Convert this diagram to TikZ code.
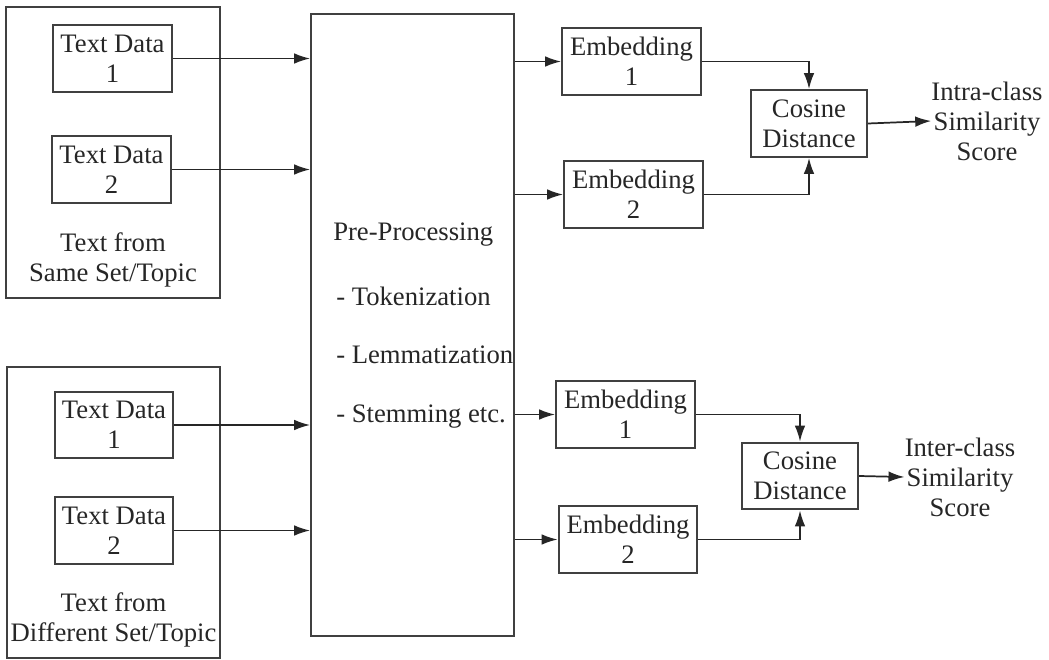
\documentclass[tikz,border=0pt]{standalone}
\usepackage{fontspec}
\setmainfont{Liberation Serif}
\usetikzlibrary{arrows.meta}

\begin{document}
\begin{tikzpicture}[x=0.75pt,y=0.75pt,yscale=-1,
    txt/.style={font=\fontsize{20}{22.5}\selectfont, text=black!85},
    box/.style={txt, draw=black!75, line width=1.6pt, align=center, inner sep=0pt},
    databox/.style={box, minimum width=89pt, minimum height=50pt},
    groupbox/.style={draw=black!75, line width=1.6pt, minimum width=160pt, minimum height=218pt},
    embbox/.style={box, minimum width=104pt, minimum height=50pt},
    cosbox/.style={box, minimum width=87pt, minimum height=50pt},
    link/.style={draw=black!85, line width=1.3pt, -{Latex[length=12pt,width=8pt]}}]

    \useasboundingbox (0,0) rectangle (1049,660);

    % left groups
    \draw (113,152.5) node [groupbox] (same) {};
    \draw (112.5,58.5) node [databox] (tdA1) {Text Data\\1};
    \draw (111.5,169.5) node [databox] (tdA2) {Text Data\\2};
    \draw (113,260) node [txt, align=center] (sameLbl) {Text from\\Same Set/Topic};
    \draw (113.5,512.5) node [groupbox] (diff) {};
    \draw (114,425) node [databox] (tdB1) {Text Data\\1};
    \draw (114,530.5) node [databox] (tdB2) {Text Data\\2};
    \draw (113.5,620) node [txt, align=center] (diffLbl) {Text from\\Different Set/Topic};

    % pre-processing
    \draw (412.5,325) node [box, minimum width=152pt, minimum height=466.5pt] (pre) {};
    \draw (333,235) node [txt, anchor=west, inner sep=0pt] (preTitle) {Pre-Processing};
    \draw (336,296) node [txt, anchor=west, inner sep=0pt] (preTok) {- Tokenization};
    \draw (336,355) node [txt, anchor=west, inner sep=0pt] (preLem) {- Lemmatization};
    \draw (336,417) node [txt, anchor=west, inner sep=0pt] (preStem) {- Stemming etc.};

    % embeddings and distances
    \draw (631.5,61.5) node [embbox] (embA1) {Embedding\\1};
    \draw (633.5,194.5) node [embbox] (embA2) {Embedding\\2};
    \draw (809,123.5) node [cosbox] (cosA) {Cosine\\Distance};
    \draw (987,121) node [txt, align=center, inner sep=0pt] (scoreA) {Intra-class\\Similarity\\Score};
    \draw (625.5,414.5) node [embbox] (embB1) {Embedding\\1};
    \draw (628,539.5) node [embbox] (embB2) {Embedding\\2};
    \draw (800,476) node [cosbox] (cosB) {Cosine\\Distance};
    \draw (960,477) node [txt, align=center, inner sep=0pt] (scoreB) {Inter-class\\Similarity\\Score};

    \draw [link] (tdA1.east) -- (tdA1.east -| pre.west);
    \draw [link] (tdA2.east) -- (tdA2.east -| pre.west);
    \draw [link] (tdB1.east) -- (tdB1.east -| pre.west);
    \draw [link] (tdB2.east) -- (tdB2.east -| pre.west);
    \draw [link] (pre.east |- embA1) -- (embA1.west);
    \draw [link] (pre.east |- embA2) -- (embA2.west);
    \draw [link] (pre.east |- embB1) -- (embB1.west);
    \draw [link] (pre.east |- embB2) -- (embB2.west);
    \draw [link] (embA1.east) -| (cosA.north);
    \draw [link] (embA2.east) -| (cosA.south);
    \draw [link] (embB1.east) -| (cosB.north);
    \draw [link] (embB2.east) -| (cosB.south);
    \draw [link] (cosA.east) -- (scoreA.west);
    \draw [link] (cosB.east) -- (scoreB.west);

\end{tikzpicture}
\end{document}
